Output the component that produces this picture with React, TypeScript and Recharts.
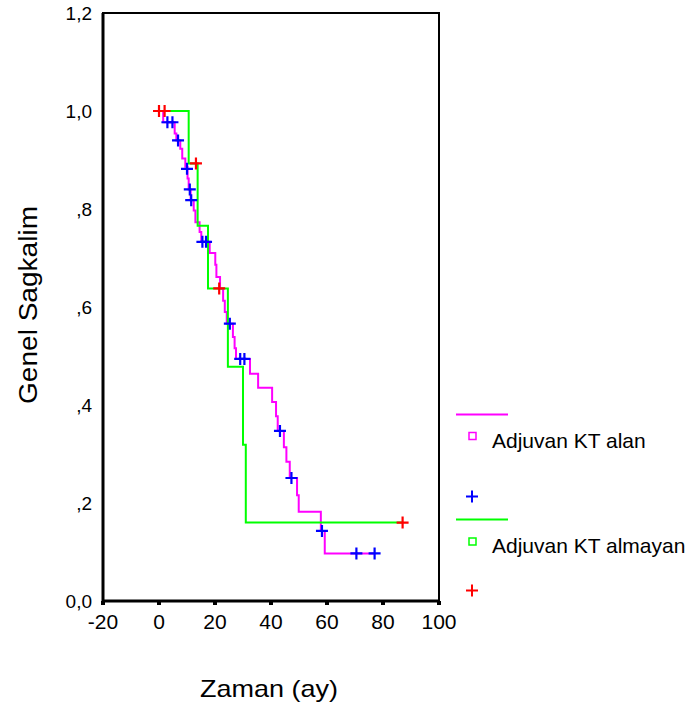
import { ComposedChart, Line, Scatter, XAxis, YAxis, ReferenceArea } from 'recharts';

// Adjuvan KT alan (magenta) - step points
const alanTimes = [0, 1.5, 5.6, 6.2, 7.6, 8.3, 9.4, 10.2, 10.6, 11.3, 12.4, 13.0, 14.5, 15.1, 18.1, 20.1, 20.5, 21.8, 22.9, 23.5, 24.2, 26.4, 27.0, 27.5, 32.5, 35.4, 40.4, 41.8, 42.4, 44.6, 45.5, 46.7, 49.3, 49.9, 57.8, 59.2, 77];
const alanSurv = [1.0, 0.977, 0.954, 0.94, 0.923, 0.903, 0.886, 0.862, 0.84, 0.818, 0.797, 0.773, 0.753, 0.733, 0.71, 0.686, 0.661, 0.637, 0.613, 0.59, 0.566, 0.539, 0.516, 0.494, 0.464, 0.435, 0.406, 0.377, 0.347, 0.314, 0.284, 0.251, 0.216, 0.182, 0.143, 0.097, 0.097];
// censored (blue +)
const alanCensTimes = [3.0, 4.8, 6.8, 10.0, 11.0, 11.5, 15.5, 16.8, 25.3, 29.0, 30.5, 43.2, 47.3, 58.2, 70.5, 77];
const alanCensSurv = [0.977, 0.977, 0.94, 0.882, 0.84, 0.818, 0.733, 0.733, 0.566, 0.494, 0.494, 0.347, 0.251, 0.143, 0.097, 0.097];

// Adjuvan KT almayan (green)
const almayanTimes = [0, 10.6, 13.8, 17.5, 24.6, 30.0, 31.0, 87];
const almayanSurv = [1.0, 0.893, 0.766, 0.638, 0.478, 0.319, 0.16, 0.16];
// censored (red +)
const almayanCensTimes = [0, 2, 13.2, 21.5, 87];
const almayanCensSurv = [1.0, 1.0, 0.893, 0.638, 0.16];

const xTicks = [-20, 0, 20, 40, 60, 80, 100];
const yTicks = [0, 0.2, 0.4, 0.6, 0.8, 1.0, 1.2];

const toRows = (ts: number[], ss: number[]) => ts.map((t, i) => ({ t, s: ss[i] }));

const alanData = toRows(alanTimes, alanSurv);
const alanCens = toRows(alanCensTimes, alanCensSurv);
const almayanData = toRows(almayanTimes, almayanSurv);
const almayanCens = toRows(almayanCensTimes, almayanCensSurv);

const fmtY = (v: number) => {
  if (v === 0) return '0,0';
  if (v >= 1) return v.toFixed(1).replace('.', ',');
  return ',' + Math.round(v * 10);
};

const makeCross = (color: string) => (props: any) => {
  const { cx, cy } = props;
  if (cx == null || cy == null) return <g />;
  return (
    <path
      d={`M${cx - 6},${cy} H${cx + 6} M${cx},${cy - 6} V${cy + 6}`}
      stroke={color}
      strokeWidth={2.2}
      fill="none"
    />
  );
};

const font = '"Liberation Sans", Arial, sans-serif';

const App = () => {
  return (
    <div style={{ position: 'absolute', left: 0, top: 0, width: 693, height: 716, background: '#fff' }}>
      <div style={{ position: 'absolute', left: 0, top: 0 }}>
        <ComposedChart
          width={693}
          height={716}
          margin={{ top: 13, right: 254, bottom: 0, left: 0 }}
          style={{ fontFamily: font }}
        >
          <XAxis
            dataKey="t"
            type="number"
            domain={[-20, 100]}
            ticks={xTicks}
            height={115}
            allowDataOverflow
            tickSize={4}
            tickMargin={9}
            tickLine={{ stroke: '#000', strokeWidth: 4 }}
            axisLine={{ stroke: '#000', strokeWidth: 3 }}
            tick={{ fill: '#000', fontSize: 21, fontFamily: font }}
          />
          <YAxis
            type="number"
            domain={[0, 1.2]}
            ticks={yTicks}
            width={103}
            allowDataOverflow
            tickSize={3}
            tickMargin={8}
            tickLine={false}
            tickFormatter={fmtY}
            axisLine={{ stroke: '#000', strokeWidth: 3 }}
            tick={{ fill: '#000', fontSize: 19, fontFamily: font }}
          />
          <ReferenceArea x1={-20} x2={100} y1={0} y2={1.2} fill="none" stroke="#000" strokeWidth={2} fillOpacity={0} />
          <Line
            data={alanData}
            dataKey="s"
            type="stepAfter"
            stroke="#ff00ff"
            strokeWidth={2}
            dot={false}
            isAnimationActive={false}
          />
          <Line
            data={almayanData}
            dataKey="s"
            type="stepAfter"
            stroke="#00ff00"
            strokeWidth={2}
            dot={false}
            isAnimationActive={false}
          />
          <Scatter data={alanCens} dataKey="s" shape={makeCross('#0000ff')} isAnimationActive={false} />
          <Scatter data={almayanCens} dataKey="s" shape={makeCross('#ff0000')} isAnimationActive={false} />
        </ComposedChart>
      </div>
      <svg
        width={693}
        height={716}
        style={{ position: 'absolute', left: 0, top: 0, pointerEvents: 'none', fontFamily: font }}
      >
        <text
          transform="translate(37,305) rotate(-90)"
          textAnchor="middle"
          fontSize={26}
          textLength={198}
          lengthAdjust="spacingAndGlyphs"
          fill="#000"
        >
          Genel Sagkalim
        </text>
        <text x={269} y={697} textAnchor="middle" fontSize={24} textLength={138} lengthAdjust="spacingAndGlyphs" fill="#000">
          Zaman (ay)
        </text>

        {/* legend */}
        <line x1={456} x2={508} y1={414.5} y2={414.5} stroke="#ff00ff" strokeWidth={2} />
        <rect x={469} y={432.5} width={7} height={7} fill="none" stroke="#ff00ff" strokeWidth={1.5} />
        <text x={492} y={448} fontSize={21} fill="#000">Adjuvan KT alan</text>
        <path d="M466,496.5 H478 M472,490.5 V502.5" stroke="#0000ff" strokeWidth={2} />

        <line x1={456} x2={508} y1={519.5} y2={519.5} stroke="#00ff00" strokeWidth={2} />
        <rect x={469} y={538} width={7} height={7} fill="none" stroke="#00ff00" strokeWidth={1.5} />
        <text x={492} y={553} fontSize={21} fill="#000">Adjuvan KT almayan</text>
        <path d="M466,590.5 H478 M472,584.5 V596.5" stroke="#ff0000" strokeWidth={2} />
      </svg>
    </div>
  );
};

export default App;
